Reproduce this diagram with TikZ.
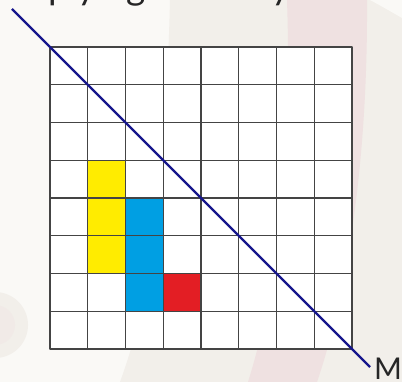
\documentclass[tikz,border=0pt]{standalone}
\usepackage{fontspec}
\setmainfont{Lato}
\usetikzlibrary{positioning}
\definecolor{paper}{HTML}{FAF9F6}
\definecolor{sandtone}{HTML}{F2EFEA}
\definecolor{blushtone}{HTML}{EFE1E1}
\definecolor{gridgray}{HTML}{444444}
\definecolor{cellyellow}{HTML}{FFEC00}
\definecolor{cellblue}{HTML}{009FE3}
\definecolor{cellred}{HTML}{E31E24}
\definecolor{mirrornavy}{HTML}{16168C}

\begin{document}
\begin{tikzpicture}[
  x=1pt,
  y=-1pt,
  line join=round,
  gridline/.style={draw=gridgray,line width=1.2pt},
  gridframe/.style={draw=gridgray,line width=1.6pt},
  mirror/.style={draw=mirrornavy,line width=2.4pt},
  labeltext/.style={inner sep=0pt,font=\fontsize{30}{36}\selectfont,text=black!85}
]
  \newcommand{\shadecell}[3]{%
    \fill[#3] (50+#1*37.75,47+#2*37.75) rectangle ++(37.75,37.75);
  }
  \useasboundingbox (0,0) rectangle (402,382);
  \clip (0,0) rectangle (402,382);

  % Soft backdrop shapes.
  \fill[paper] (0,0) rectangle (402,382);
  \fill[sandtone] (170,0) .. controls (165,200) and (150,300) .. (120,382) -- (402,382) -- (402,0) -- cycle;
  \fill[blushtone] (287,0) .. controls (292,150) and (280,280) .. (248,382)
    -- (317,382) .. controls (345,300) and (368,170) .. (367,0) -- cycle;
  \fill[paper] (370,0) .. controls (385,8) and (395,14) .. (402,18) -- (402,0) -- cycle;
  \fill[sandtone] (-5,325) circle[radius=33];
  \fill[blushtone!35!sandtone] (-5,325) circle[radius=20];

  % Cut-off heading, only its descenders show.
  \node[labeltext,font=\fontsize{37}{44}\selectfont,anchor=base west] (heading) at (-38,0) {Multiplying it out by};

  % The 8 by 8 grid with its shaded cells.
  \fill[white] (50,47) rectangle (352,349);
  \shadecell{1}{3}{cellyellow}
  \shadecell{1}{4}{cellyellow}
  \shadecell{1}{5}{cellyellow}
  \shadecell{2}{4}{cellblue}
  \shadecell{2}{5}{cellblue}
  \shadecell{2}{6}{cellblue}
  \shadecell{3}{6}{cellred}
  \foreach \k in {1,...,7} {
    \draw[gridline] (50+\k*37.75,47) -- (50+\k*37.75,349);
    \draw[gridline] (50,47+\k*37.75) -- (352,47+\k*37.75);
  }
  \draw[gridframe] (50,47) rectangle (352,349);

  % Mirror line M.
  \coordinate (mirrortop) at (12,9);
  \coordinate (mirrorend) at (370,367);
  \draw[mirror] (mirrortop) -- (mirrorend);
  \node[labeltext,anchor=base west] (mlabel) at (374,379) {M};
\end{tikzpicture}
\end{document}
